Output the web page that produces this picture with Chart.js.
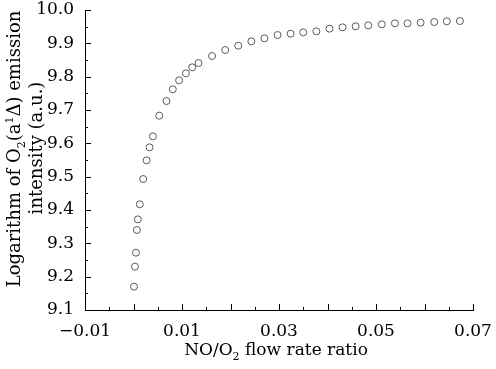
<!DOCTYPE html>
<html>
<head>
<meta charset="utf-8">
<script src="https://cdn.jsdelivr.net/npm/chart.js@4.4.0/dist/chart.umd.min.js"></script>
<style>
body { margin: 0; background: #fff; }
#wrap { width: 496px; height: 369px; }
</style>
</head>
<body>
<div id="wrap"><canvas id="myChart"></canvas></div>
<script>
// values
const flowRatio = [0.0001, 0.0003, 0.0005, 0.0007, 0.0009, 0.0013, 0.0020, 0.0027, 0.0033, 0.0040,
    0.0053, 0.0068, 0.0081, 0.0094, 0.0108, 0.0121, 0.0134, 0.0162, 0.0189, 0.0216,
    0.0243, 0.0270, 0.0297, 0.0324, 0.0350, 0.0377, 0.0404, 0.0431, 0.0458, 0.0484,
    0.0512, 0.0539, 0.0565, 0.0592, 0.0620, 0.0646, 0.0673];
const logIntensity = [9.170, 9.230, 9.272, 9.340, 9.372, 9.417, 9.493, 9.549, 9.588, 9.621,
    9.683, 9.727, 9.762, 9.789, 9.810, 9.828, 9.841, 9.862, 9.880, 9.893,
    9.906, 9.915, 9.925, 9.929, 9.933, 9.936, 9.944, 9.948, 9.951, 9.954,
    9.957, 9.960, 9.960, 9.962, 9.964, 9.966, 9.967];
const xTickValues = [-0.01, 0.01, 0.03, 0.05, 0.07];
const yTickValues = [9.1, 9.2, 9.3, 9.4, 9.5, 9.6, 9.7, 9.8, 9.9, 10.0];

const FONT = 'DejaVu Serif';
const FSIZE = 17;

let points = [];
for (let i = 0; i < flowRatio.length; i++) {
    points.push({x: flowRatio[i], y: logIntensity[i]});
}

// text with sub/superscripts
function drawRich(ctx, parts, cx, baseY, size) {
    let small = Math.round(size * 0.62);
    let total = 0;
    parts.forEach(function (p) {
        ctx.font = (p.sub || p.sup ? small : size) + 'px "' + FONT + '"';
        p.w = ctx.measureText(p.t).width;
        total += p.w;
    });
    let x = cx - total / 2;
    parts.forEach(function (p) {
        ctx.font = (p.sub || p.sup ? small : size) + 'px "' + FONT + '"';
        let dy = p.sub ? 5 : (p.sup ? -7 : 0);
        ctx.fillText(p.t, x, baseY + dy);
        x += p.w;
    });
}

const axisDecor = {
    id: 'axisDecor',
    afterDraw(chart) {
        const ctx = chart.ctx;
        const xs = chart.scales.x, ys = chart.scales.y;
        ctx.save();
        ctx.strokeStyle = '#000';
        ctx.lineWidth = 1;
        ctx.beginPath();
        // inward ticks on x
        for (let k = 0; k <= 16; k++) {
            let v = xs.min + k * 0.005;
            let px = Math.round(xs.getPixelForValue(v)) + 0.5;
            let len = (k % 2 === 0) ? 6 : 3;
            ctx.moveTo(px, ys.bottom);
            ctx.lineTo(px, ys.bottom - len);
        }
        // inward ticks on y
        for (let k = 0; k <= 18; k++) {
            let v = ys.min + k * 0.05;
            let py = Math.round(ys.getPixelForValue(v)) + 0.5;
            let len = (k % 2 === 0) ? 6 : 3;
            ctx.moveTo(xs.left, py);
            ctx.lineTo(xs.left + len, py);
        }
        ctx.stroke();

        ctx.fillStyle = '#000';
        ctx.textBaseline = 'alphabetic';
        ctx.textAlign = 'left';
        drawRich(ctx, [{t: 'NO/O'}, {t: '2', sub: true}, {t: ' flow rate ratio'}], 276, 355, 17);

        ctx.translate(20, 149);
        ctx.rotate(-Math.PI / 2);
        drawRich(ctx, [{t: 'Logarithm of O'}, {t: '2', sub: true}, {t: '(a'}, {t: '1', sup: true}, {t: '\u0394) emission'}], 0, 0, 18);
        ctx.restore();
        ctx.save();
        ctx.fillStyle = '#000';
        ctx.translate(42, 148);
        ctx.rotate(-Math.PI / 2);
        drawRich(ctx, [{t: 'intensity (a.u.)'}], 0, 0, 18);
        ctx.restore();
    }
};

new Chart(document.getElementById('myChart'), {
    type: 'scatter',
    data: {
        datasets: [{
            label: 'log intensity',
            data: points,
            pointStyle: 'circle',
            pointRadius: 3.5,
            pointBorderWidth: 1,
            pointBorderColor: '#5a5a5a',
            pointBackgroundColor: 'rgba(0,0,0,0)'
        }]
    },
    options: {
        responsive: true,
        maintainAspectRatio: false,
        animation: false,
        layout: {padding: {left: 0, top: 10, right: 23, bottom: 0}},
        plugins: {legend: {display: false}, tooltip: {enabled: false}},
        scales: {
            x: {
                type: 'linear',
                min: -0.01,
                max: 0.07,
                afterBuildTicks: function (scale) {
                    scale.ticks = xTickValues.map(function (v) { return {value: v}; });
                },
                afterFit: function (scale) {
                    scale.height = 59;
                    scale.paddingLeft = 0;
                    scale.paddingRight = 0;
                },
                grid: {display: false},
                border: {display: true, color: '#000', width: 1},
                ticks: {
                    color: '#000',
                    font: {family: FONT, size: FSIZE},
                    padding: 3,
                    maxRotation: 0,
                    callback: function (v) {
                        let s = Math.abs(v).toFixed(2);
                        return v < 0 ? '\u2212' + s : s;
                    }
                }
            },
            y: {
                type: 'linear',
                min: 9.1,
                max: 10.0,
                afterBuildTicks: function (scale) {
                    scale.ticks = yTickValues.map(function (v) { return {value: v}; });
                },
                afterFit: function (scale) {
                    scale.width = 85;
                    scale.paddingTop = 0;
                    scale.paddingBottom = 0;
                },
                grid: {display: false},
                border: {display: true, color: '#000', width: 1},
                ticks: {
                    color: '#000',
                    font: {family: FONT, size: FSIZE},
                    padding: 3,
                    callback: function (v) { return v.toFixed(1); }
                }
            }
        }
    },
    plugins: [axisDecor]
});
</script>
</body>
</html>
